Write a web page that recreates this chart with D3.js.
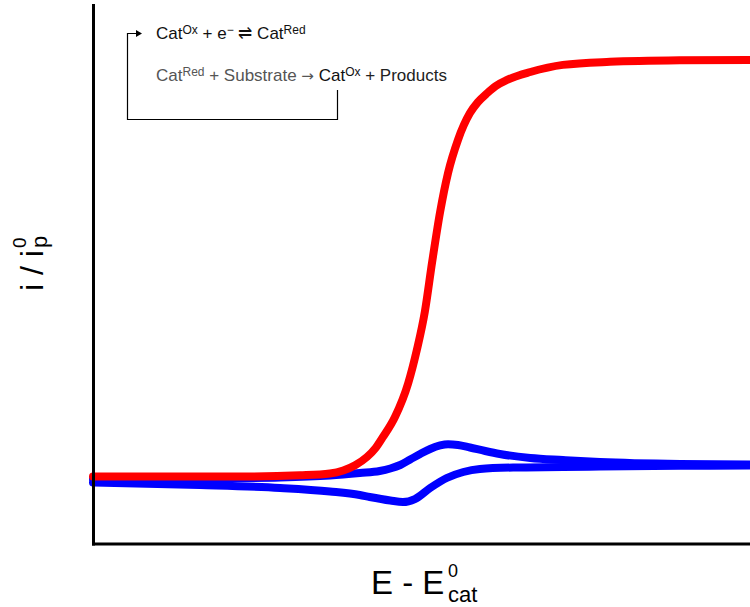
<!DOCTYPE html>
<html>
<head>
<meta charset="utf-8">
<script src="https://cdn.jsdelivr.net/npm/d3@7"></script>
<style>
  html, body { margin: 0; padding: 0; background: #fff; }
  svg { display: block; }
  text { font-family: "Liberation Sans", Arial, sans-serif; }
</style>
</head>
<body>
<svg id="chart" width="750" height="607"></svg>
<script>
// ---- Data (E - E0cat in V, current normalised i / ip0) ----
const redE = [-0.5, -0.263, -0.188, -0.143, -0.123, -0.105, -0.087, -0.074, -0.063, -0.045, -0.025, -0.012, 0.000, 0.011, 0.023, 0.035, 0.050, 0.068, 0.080, 0.094, 0.107, 0.124, 0.159, 0.208, 0.279, 0.385, 0.49];
const redI = [-0.02, -0.02, 0.01, 0.06, 0.14, 0.28, 0.50, 0.74, 1.03, 1.56, 2.46, 3.34, 4.35, 5.67, 7.00, 8.04, 8.92, 9.63, 9.92, 10.16, 10.35, 10.51, 10.72, 10.91, 10.99, 11.03, 11.04];

const blueFwdE = [-0.5, -0.339, -0.218, -0.143, -0.098, -0.068, -0.052, -0.037, -0.022, -0.007, 0.008, 0.023, 0.035, 0.050, 0.068, 0.091, 0.113, 0.159, 0.208, 0.264, 0.385, 0.49];
const blueFwdI = [-0.087, -0.074, -0.047, 0.006, 0.072, 0.125, 0.192, 0.285, 0.431, 0.577, 0.710, 0.803, 0.837, 0.816, 0.749, 0.656, 0.577, 0.471, 0.417, 0.364, 0.311, 0.298];

const blueRevE = [0.49, 0.385, 0.264, 0.208, 0.133, 0.083, 0.058, 0.033, 0.008, -0.015, -0.033, -0.052, -0.083, -0.098, -0.143, -0.218, -0.339, -0.5];
const blueRevI = [0.271, 0.263, 0.245, 0.232, 0.218, 0.178, 0.099, -0.061, -0.327, -0.619, -0.698, -0.658, -0.565, -0.512, -0.419, -0.326, -0.247, -0.180];

const xDomain = [-0.5, 0.49];
const yDomain = [-1.8, 12.5];

const schemeLine1 = [
  {t: "Cat", c: "#111"}, {t: "Ox", c: "#111", sup: true}, {t: " + e", c: "#111"},
  {t: "\u2212", c: "#111", sup: true}, {t: " \u21CC Cat", c: "#111"}, {t: "Red", c: "#111", sup: true}
];
const schemeLine2 = [
  {t: "Cat", c: "#555"}, {t: "Red", c: "#555", sup: true}, {t: " + Substrate ", c: "#555"},
  {t: "\u2192", c: "#555", arrow: true}, {t: " Cat", c: "#111"}, {t: "Ox", c: "#111", sup: true}, {t: " + Products", c: "#222"}
];

// ---- Drawing ----
const svg = d3.select("#chart");
const x = d3.scaleLinear().domain(xDomain).range([93, 750]);
const y = d3.scaleLinear().domain(yDomain).range([543.5, 5]);

const toPts = (E, I) => E.map((e, k) => [e, I[k]]).sort((a, b) => a[0] - b[0]);
const line = d3.line().x(d => x(d[0])).y(d => y(d[1])).curve(d3.curveMonotoneX);

const curves = [
  {pts: toPts(blueFwdE, blueFwdI), c: "#0000ff"},
  {pts: toPts(blueRevE, blueRevI), c: "#0000ff"},
  {pts: toPts(redE, redI), c: "#ff0000"}
];
curves.forEach(cv => svg.append("path").datum(cv.pts).attr("d", line)
  .attr("fill", "none").attr("stroke", cv.c).attr("stroke-width", 8).attr("stroke-linecap", "round"));

// axes (lines only)
const gx = svg.append("g").attr("transform", `translate(0,${y.range()[0]})`)
  .call(d3.axisBottom(x).ticks(0).tickSize(0).tickSizeOuter(0));
const gy = svg.append("g").attr("transform", `translate(${x.range()[0]},0)`)
  .call(d3.axisLeft(y).ticks(0).tickSize(0).tickSizeOuter(0));
[gx, gy].forEach(g => g.select(".domain").attr("stroke", "#000").attr("stroke-width", 3).attr("stroke-linecap", "square"));

// axis labels
svg.append("text").attr("x", 371).attr("y", 594).attr("font-size", 33).attr("fill", "#000").text("E - E");
svg.append("text").attr("x", 448).attr("y", 577).attr("font-size", 18).attr("fill", "#000").text("0");
svg.append("text").attr("x", 448).attr("y", 601.5).attr("font-size", 22).attr("fill", "#000").text("cat");

const yl = svg.append("g").attr("transform", "translate(43,291) rotate(-90)");
yl.append("text").attr("x", 0).attr("y", 0).attr("font-size", 32).attr("fill", "#000").text("i / i");
yl.append("text").attr("x", 43).attr("y", -17).attr("font-size", 19).attr("fill", "#000").text("0");
yl.append("text").attr("x", 43).attr("y", 4).attr("font-size", 22).attr("fill", "#000").text("p");

// reaction scheme
function schemeText(segs, x0, y0) {
  const t = svg.append("text").attr("x", x0).attr("y", y0).attr("font-size", 17);
  let raised = false;
  segs.forEach(s => {
    const ts = t.append("tspan").attr("fill", s.c).text(s.t);
    if (s.arrow) ts.attr("font-family", "DejaVu Sans").attr("font-size", 15);
    if (s.sup && !raised) { ts.attr("dy", -5).attr("font-size", 12); raised = true; }
    else if (s.sup) { ts.attr("font-size", 12); }
    else if (raised) { ts.attr("dy", 5); raised = false; }
  });
  return t;
}
schemeText(schemeLine1, 156, 39);
schemeText(schemeLine2, 156, 80.5);

svg.append("path").attr("d", "M337.5,90V119.5H127.5V33.5H137")
  .attr("fill", "none").attr("stroke", "#000").attr("stroke-width", 1.2);
svg.append("path").attr("d", "M136,30L142,33.5L136,37Z").attr("fill", "#000");
</script>
</body>
</html>
